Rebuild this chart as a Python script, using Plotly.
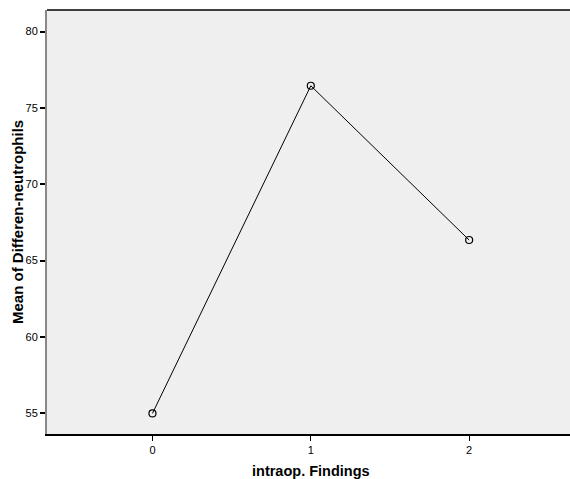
import plotly.graph_objects as go

categories = [0, 1, 2]
means = [55.0, 76.45, 66.35]
y_ticks = [55, 60, 65, 70, 75, 80]
x_ticks = [0, 1, 2]

fig = go.Figure()
fig.add_trace(go.Scatter(
    x=categories, y=means, mode="lines+markers",
    line=dict(color="black", width=1),
    marker=dict(symbol="circle-open", size=7, color="black", line=dict(width=1.2)),
    showlegend=False, cliponaxis=False,
))

L, T, B = 47, 10, 45
W, H = 570, 479
pw, ph = W - L, H - T - B

fig.update_layout(
    width=W, height=H,
    margin=dict(l=L, r=0, t=T, b=B),
    paper_bgcolor="white", plot_bgcolor="#EFEFEF",
    font=dict(family="Liberation Sans, Arial, sans-serif", color="black", size=11),
    xaxis=dict(range=[-0.666, 2.637], tickvals=x_ticks, ticktext=[str(v) for v in x_ticks],
               showgrid=False, zeroline=False, ticks="outside", ticklen=5, tickcolor="black",
               tickwidth=1, showline=True, linecolor="black", linewidth=1.5, mirror=False),
    yaxis=dict(range=[53.65, 81.41], tickvals=y_ticks, ticktext=[str(v) for v in y_ticks],
               showgrid=False, zeroline=False, ticks="outside", ticklen=5, tickcolor="black",
               tickwidth=1.5, showline=True, linecolor="#888888", linewidth=2),
    shapes=[dict(type="line", xref="paper", yref="paper", x0=0, x1=1, y0=1, y1=1,
                 line=dict(color="black", width=1.5))],
    annotations=[
        dict(text="<b>intraop. Findings</b>", xref="x", yref="paper", x=1,
             y=-(471 - (T + ph)) / ph, xanchor="center", yanchor="middle",
             showarrow=False, font=dict(size=14.5)),
        dict(text="<b>Mean of Differen-neutrophils</b>", xref="paper", yref="paper",
             x=-(L - 17) / pw, y=0.5, xanchor="center", yanchor="middle", textangle=-90,
             showarrow=False, font=dict(size=15)),
    ],
)

fig.write_html("out.html")
